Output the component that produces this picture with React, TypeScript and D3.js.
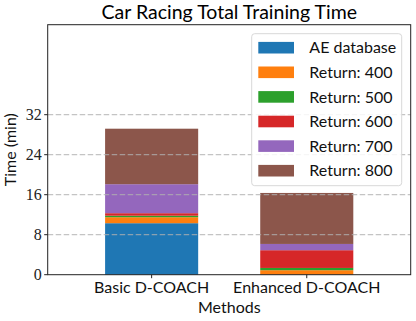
import React from 'react';
import * as d3 from 'd3';

// bar categories and stacked series (minutes)
const methods = ['Basic D-COACH', 'Enhanced D-COACH'];
const seriesNames = ['AE database', 'Return: 400', 'Return: 500', 'Return: 600', 'Return: 700', 'Return: 800'];
const aeDatabase = [10.3, 0];
const return400 = [1.2, 0.9];
const return500 = [0.3, 0.45];
const return600 = [0.5, 3.55];
const return700 = [5.8, 1.25];
const return800 = [11.1, 10.2];
const yTicks = [0, 8, 16, 24, 32];
const colors = ['#1f77b4', '#ff7f0e', '#2ca02c', '#d62728', '#9467bd', '#8c564b'];

const W = 416;
const H = 321;
const plot = { left: 47.7, right: 410.7, top: 24.7, bottom: 274.7 };
const sans = 'Lato, "DejaVu Sans", sans-serif';
const serif = '"Liberation Serif", "DejaVu Serif", serif';

export default function App() {
  const values = [aeDatabase, return400, return500, return600, return700, return800];
  const rows = methods.map((m, i) => {
    const r: Record<string, any> = { method: m, index: i };
    seriesNames.forEach((s, k) => (r[s] = values[k][i]));
    return r;
  });
  const stacked = d3.stack<any>().keys(seriesNames)(rows);

  const x = d3.scaleLinear().domain([-0.67, 1.67]).range([plot.left, plot.right]);
  const y = d3.scaleLinear().domain([0, 50]).range([plot.bottom, plot.top]);
  const barW = x(0.6) - x(0);

  const legend = { x: 251.7, y: 33.7, w: 150, h: 152, row: 24.6, first: 47.7 };

  return (
    <svg width={W} height={H} style={{ position: 'fixed', left: 0, top: 0, background: '#fff' }}>
      <rect width={W} height={H} fill="#fff" />
      <text x={229.3} y={19} textAnchor="middle" fontFamily={sans} fontSize={19.5} fill="#000">
        Car Racing Total Training Time
      </text>

      {stacked.map((layer, k) => (
        <g key={layer.key} fill={colors[k]}>
          {layer.map((d, i) =>
            d[1] - d[0] > 0 ? (
              <rect key={i} x={x(i) - barW / 2} width={barW} y={y(d[1])} height={y(d[0]) - y(d[1])} />
            ) : null
          )}
        </g>
      ))}

      {yTicks.filter(t => t > 0).map(t => (
        <line key={t} x1={plot.left} x2={plot.right} y1={y(t)} y2={y(t)}
          stroke="#b0b0b0" strokeOpacity={0.75} strokeWidth={1.2} strokeDasharray="5.5,2.5" />
      ))}

      <rect x={plot.left} y={plot.top} width={plot.right - plot.left} height={plot.bottom - plot.top}
        fill="none" stroke="#222" strokeWidth={1} />

      {yTicks.map(t => (
        <g key={t}>
          <line x1={plot.left - 3.5} x2={plot.left} y1={y(t)} y2={y(t)} stroke="#222" strokeWidth={1} />
          <text x={plot.left - 6} y={y(t) + 5.3} textAnchor="end" fontFamily={serif} fontSize={16} fill="#222">{t}</text>
        </g>
      ))}
      {methods.map((m, i) => (
        <g key={m}>
          <line x1={x(i)} x2={x(i)} y1={plot.bottom} y2={plot.bottom + 3.5} stroke="#222" strokeWidth={1} />
          <text x={x(i)} y={293.3} textAnchor="middle" fontFamily={sans} fontSize={16} fill="#111">{m}</text>
        </g>
      ))}
      <text x={229.3} y={313.3} textAnchor="middle" fontFamily={sans} fontSize={16} fill="#111">Methods</text>
      <text transform={`translate(16,${(plot.top + plot.bottom) / 2}) rotate(-90)`} textAnchor="middle"
        fontFamily={sans} fontSize={16} fill="#111">Time (min)</text>

      <g>
        <rect x={legend.x} y={legend.y} width={legend.w} height={legend.h} rx={3}
          fill="#fff" fillOpacity={0.85} stroke="#d8d8d8" strokeWidth={1} />
        {seriesNames.map((s, k) => {
          const cy = legend.first + k * legend.row;
          return (
            <g key={s}>
              <rect x={258.3} y={cy - 5.8} width={35.7} height={11.6} fill={colors[k]} />
              <text x={309.3} y={cy + 5.6} fontFamily={sans} fontSize={16} fill="#111">{s}</text>
            </g>
          );
        })}
      </g>
    </svg>
  );
}
